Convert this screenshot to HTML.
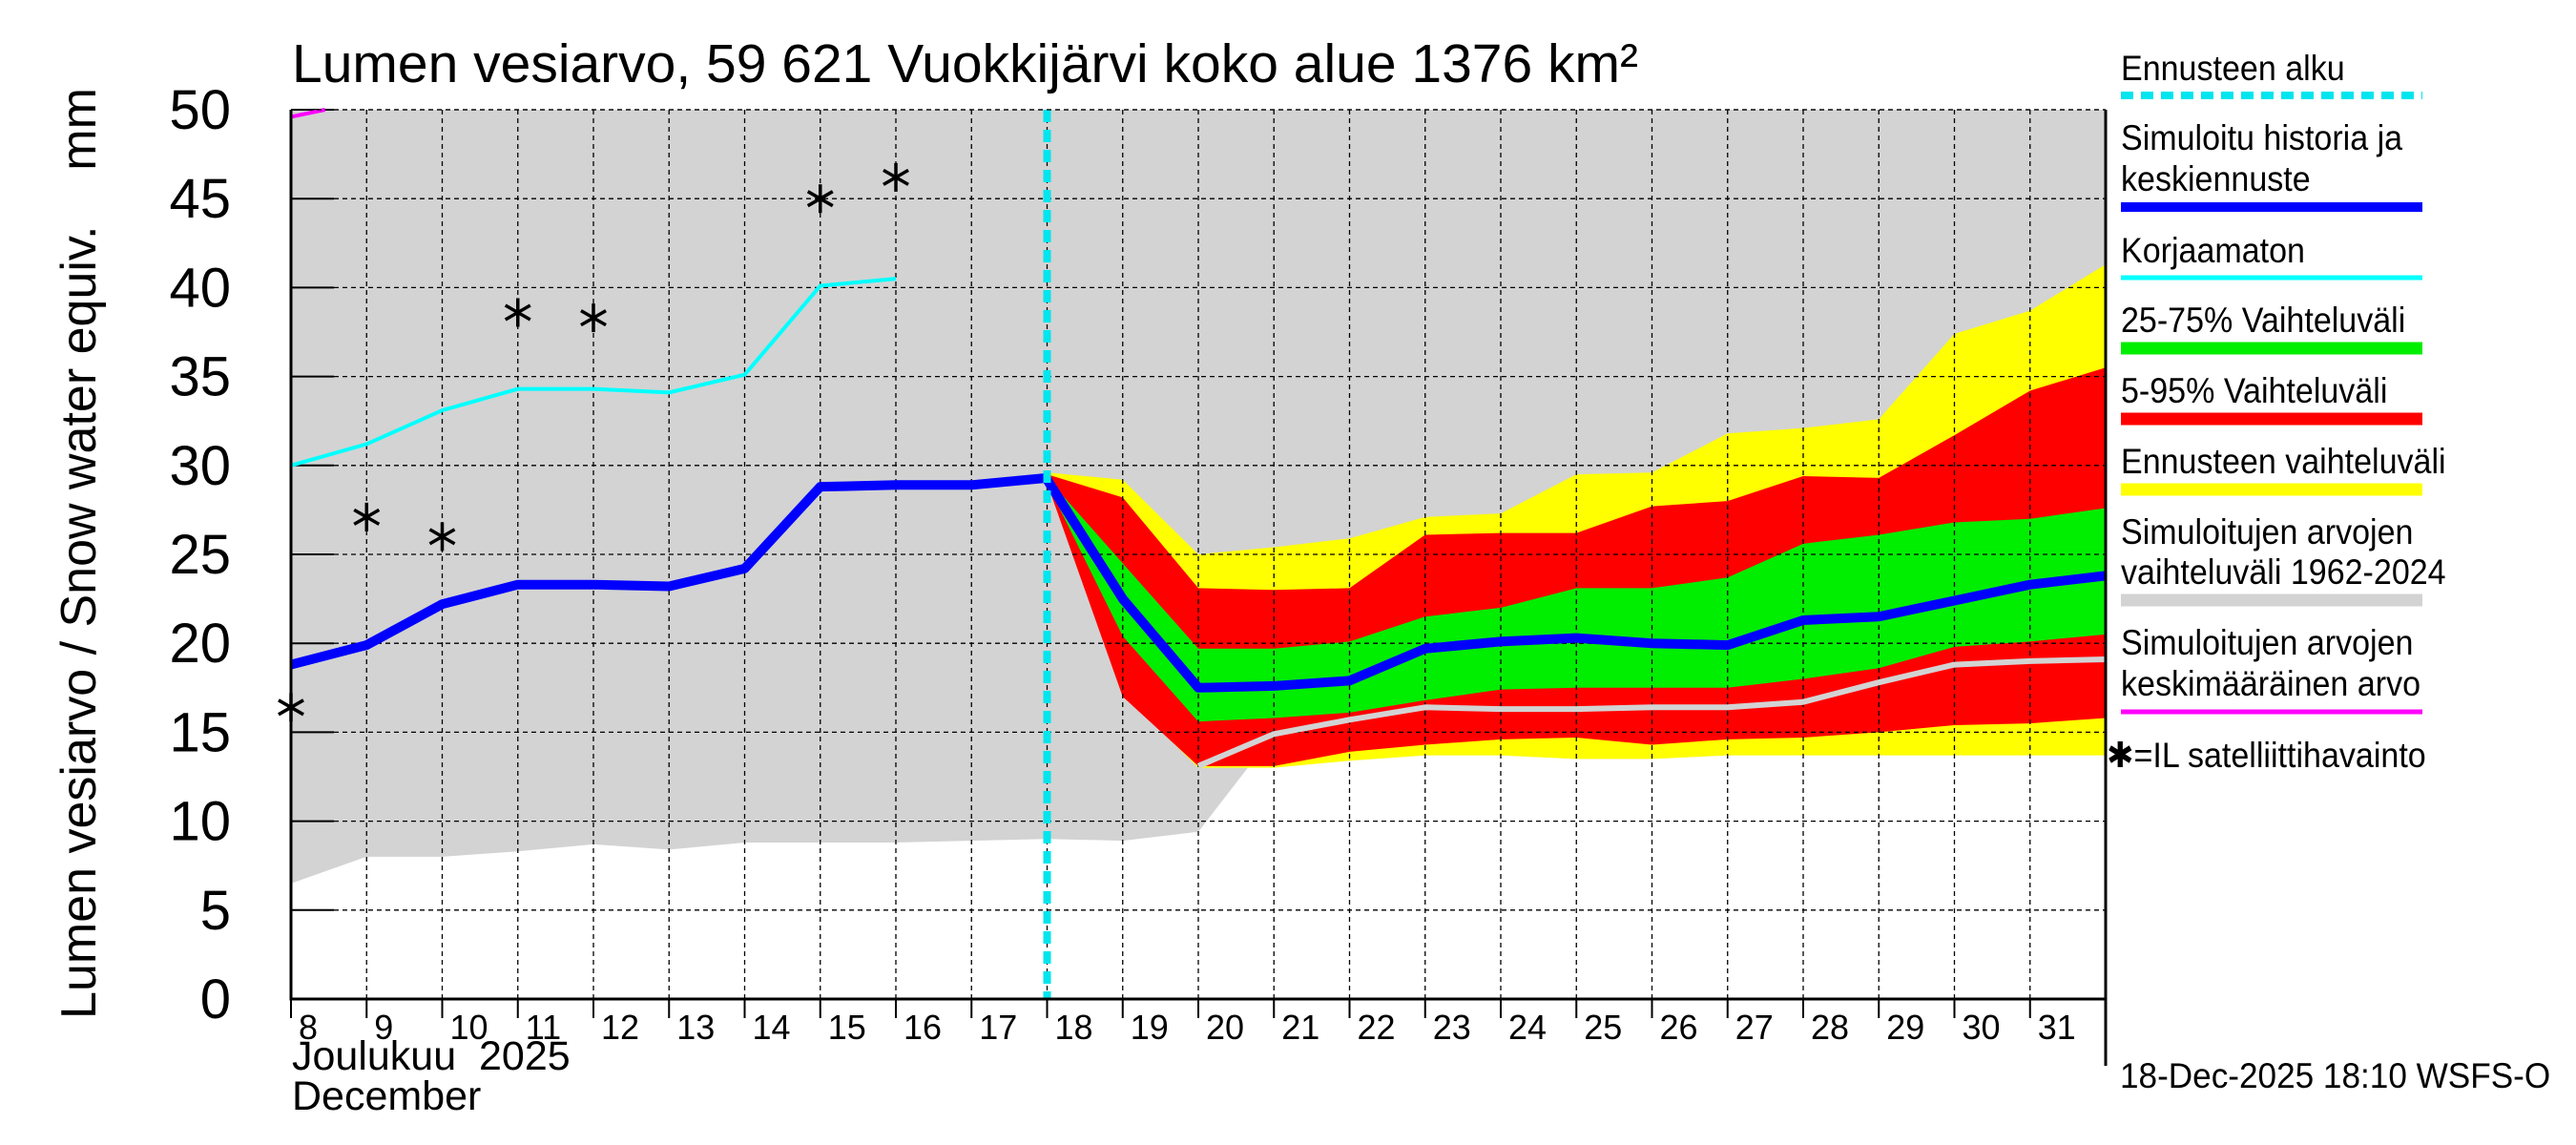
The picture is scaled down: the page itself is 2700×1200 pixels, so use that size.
<!DOCTYPE html>
<html><head><meta charset="utf-8"><style>
html,body{margin:0;padding:0;background:#fff;}
svg{display:block;font-family:"Liberation Sans",sans-serif;}
</style></head><body>
<svg id="c" width="2700" height="1200" viewBox="0 0 2700 1200">
<text x="306" y="86" font-size="57">Lumen vesiarvo, 59 621 Vuokkijärvi koko alue 1376 km²</text>
<text transform="translate(100,580) rotate(-90)" text-anchor="middle" font-size="52" style="white-space:pre">Lumen vesiarvo / Snow water equiv.    mm</text>
<g id="plot"></g>
<g id="legend"></g>
<text x="306" y="1121" font-size="43" style="white-space:pre">Joulukuu  2025</text>
<text x="306" y="1163" font-size="43">December</text>
<text x="2222" y="1140" font-size="37" transform="translate(2222,0) scale(0.95,1) translate(-2222,0)">18-Dec-2025 18:10 WSFS-O</text>
</svg>
<script>
const days=[8,9,10,11,12,13,14,15,16,17,18,19,20,21,22,23,24,25,26,27,28,29,30,31,32];
const fDays=[18,19,20,21,22,23,24,25,26,27,28,29,30,31,32];
const grayLow=[6.5,8,8,8.3,8.7,8.4,8.8,8.8,8.8,8.9,9,8.9,9.4,14.9,13.4,13.7,13.7,13.5,13.5,13.7,13.7,13.7,13.7,13.7,13.7];
const grayHigh=[50,50,50,50,50,50,50,50,50,50,50,50,50,50,50,50,50,50,50,50,50,50,50,50,50];
const yelHigh=[29.6,29.2,25.0,25.4,25.9,27.1,27.3,29.5,29.6,31.8,32.1,32.6,37.4,38.7,41.3];
const redHigh=[29.5,28.2,23.1,23.0,23.1,26.1,26.2,26.2,27.7,28.0,29.4,29.3,31.7,34.2,35.5];
const grnHigh=[29.3,24.5,19.7,19.7,20.1,21.5,22.0,23.1,23.1,23.7,25.6,26.1,26.8,27.0,27.6];
const median=[29.2,22.5,17.5,17.6,17.9,19.7,20.1,20.3,20.0,19.9,21.3,21.5,22.4,23.3,23.8];
const grnLow=[29.0,20.4,15.6,15.8,16.1,16.8,17.4,17.5,17.5,17.5,18.0,18.6,19.8,20.1,20.5];
const redLow=[29.0,17.0,13.1,13.1,13.9,14.3,14.6,14.7,14.3,14.6,14.7,15.0,15.4,15.5,15.8];
const yelLow=[29.0,17.2,13.0,13.0,13.4,13.7,13.7,13.5,13.5,13.7,13.7,13.7,13.7,13.7,13.7];
const meanDays=[20,21,22,23,24,25,26,27,28,29,30,31,32];
const meanVals=[13.1,14.9,15.7,16.4,16.3,16.3,16.4,16.4,16.7,17.8,18.8,19.0,19.1];
const histDays=[8,9,10,11,12,13,14,15,16,17,18];
const histVals=[18.8,19.9,22.2,23.3,23.3,23.2,24.2,28.8,28.9,28.9,29.3];
const rawDays=[8,9,10,11,12,13,14,15,16];
const rawVals=[30.0,31.2,33.1,34.3,34.3,34.1,35.1,40.1,40.5];
const obsDays=[8,9,10,11,12,15,16];
const obsVals=[16.4,27.1,26.0,38.6,38.3,45.0,46.2];
const yTicks=[0,5,10,15,20,25,30,35,40,45,50];
const xTickLabels=[8,9,10,11,12,13,14,15,16,17,18,19,20,21,22,23,24,25,26,27,28,29,30,31];
const forecastStart=18;

const X0=305,X1=2207,Y0=1047,Y1=115;
const xs=d=>X0+(d-8)*(X1-X0)/24;
const ys=v=>Y0-v*(Y0-Y1)/50;
const NS="http://www.w3.org/2000/svg";
const plot=document.getElementById('plot');
function mk(tag,attrs,parent){const e=document.createElementNS(NS,tag);for(const k in attrs)e.setAttribute(k,attrs[k]);(parent||plot).appendChild(e);return e;}
function band(dx,hi,lo,fill,name){
  let p=dx.map((d,i)=>xs(d)+','+ys(hi[i]));
  for(let i=dx.length-1;i>=0;i--)p.push(xs(dx[i])+','+ys(lo[i]));
  const e=mk('polygon',{points:p.join(' '),fill:fill});
  
  
}
function line(dx,v,stroke,w,name){
  const e=mk('polyline',{points:dx.map((d,i)=>xs(d)+','+ys(v[i])).join(' '),fill:'none',stroke:stroke,'stroke-width':w,'stroke-linejoin':'round'});
  
  
}
band(days,grayHigh,grayLow,'#d3d3d3','historical-range-band');
band(fDays,yelHigh,yelLow,'#ffff00','forecast-range-band');
band(fDays,redHigh,redLow,'#ff0000','band-5-95');
band(fDays,grnHigh,grnLow,'#00ee00','band-25-75');
for(const v of yTicks){
  const g=mk('line',{x1:X0,x2:X1,y1:ys(v),y2:ys(v),stroke:'#000','stroke-width':1.3,'stroke-dasharray':'5,4'});
  
  
  const t=mk('line',{x1:X0,x2:X0+45,y1:ys(v),y2:ys(v),stroke:'#000','stroke-width':2});
  
  
  const l=mk('text',{x:242,y:ys(v)+20,'text-anchor':'end','font-size':58});
  l.textContent=v;
  
  
}
for(const d of xTickLabels){
  const g=mk('line',{x1:xs(d),x2:xs(d),y1:Y1,y2:Y0,stroke:'#000','stroke-width':1.3,'stroke-dasharray':'5,4'});
  
  
  const t=mk('line',{x1:xs(d),x2:xs(d),y1:Y0,y2:Y0+20,stroke:'#000','stroke-width':2});
  
  
  const l=mk('text',{x:xs(d)+8,y:Y0+42,'font-size':36});
  l.textContent=d;
  
  
}
line(meanDays,meanVals,'#d3d3d3',6,'mean-line');
line(fDays,median,'#0000ff',10,'median-forecast-line');
line(histDays,histVals,'#0000ff',10,'simulated-history-line');
line(rawDays,rawVals,'#00ffff',4,'uncorrected-line');
const mg=mk('line',{x1:xs(8),y1:ys(49.6),x2:xs(8.45),y2:ys(50),stroke:'#ff00ff','stroke-width':4});


const fs=mk('line',{x1:xs(forecastStart),x2:xs(forecastStart),y1:Y1,y2:Y0,stroke:'#00e5ee','stroke-width':8,'stroke-dasharray':'13,8'});


obsDays.forEach((d,i)=>{
  const cx=xs(d),cy=ys(obsVals[i]),r=15;
  const g=mk('g',{stroke:'#000','stroke-width':3.5});
  
  
  mk('line',{x1:cx,y1:cy-r,x2:cx,y2:cy+r},g);
  mk('line',{x1:cx-r*0.87,y1:cy-r*0.5,x2:cx+r*0.87,y2:cy+r*0.5},g);
  mk('line',{x1:cx-r*0.87,y1:cy+r*0.5,x2:cx+r*0.87,y2:cy-r*0.5},g);
});
const ax=mk('path',{d:`M${X0},${Y1} V${Y0} H${X1} V${Y1}`,fill:'none',stroke:'#000','stroke-width':3});


const tk=mk('line',{x1:X1,x2:X1,y1:Y0,y2:1117,stroke:'#000','stroke-width':3});


mk('line',{x1:X0,x2:X1,y1:Y1,y2:Y1,stroke:'#000','stroke-width':1.3,'stroke-dasharray':'5,4'});

const lg=document.getElementById('legend');
const LX=2223,LX2=2539;
function ltext(y,s,name){const t=mk('text',{x:LX,y:y,'font-size':37,transform:`translate(${LX},0) scale(0.92,1) translate(${-LX},0)`},lg);t.textContent=s;}
function lline(y,stroke,w,name,dash){const a={x1:LX,x2:LX2,y1:y,y2:y,stroke:stroke,'stroke-width':w};if(dash)a['stroke-dasharray']=dash;const e=mk('line',a,lg);}
ltext(84,'Ennusteen alku','legend-forecast-start-label');lline(100,'#00e5ee',8,'legend-forecast-start-swatch','13,8');
ltext(157,'Simuloitu historia ja','legend-history-label');ltext(200,'keskiennuste','legend-history-label-2');lline(217,'#0000ff',10,'legend-history-swatch');
ltext(275,'Korjaamaton','legend-uncorrected-label');lline(291,'#00ffff',5,'legend-uncorrected-swatch');
ltext(348,'25-75% Vaihteluväli','legend-25-75-label');lline(365,'#00ee00',13,'legend-25-75-swatch');
ltext(422,'5-95% Vaihteluväli','legend-5-95-label');lline(439,'#ff0000',13,'legend-5-95-swatch');
ltext(496,'Ennusteen vaihteluväli','legend-forecast-range-label');lline(513,'#ffff00',13,'legend-forecast-range-swatch');
ltext(570,'Simuloitujen arvojen','legend-hist-range-label');ltext(612,'vaihteluväli 1962-2024','legend-hist-range-label-2');lline(629,'#d3d3d3',13,'legend-hist-range-swatch');
ltext(686,'Simuloitujen arvojen','legend-mean-label');ltext(729,'keskimääräinen arvo','legend-mean-label-2');lline(746,'#ff00ff',5,'legend-mean-swatch');
const lt=mk('text',{x:2208,y:804,'font-size':37,transform:`translate(2208,0) scale(0.92,1) translate(-2208,0)`},lg);
lt.textContent='✱=IL satelliittihavainto';


</script>
</body></html>
